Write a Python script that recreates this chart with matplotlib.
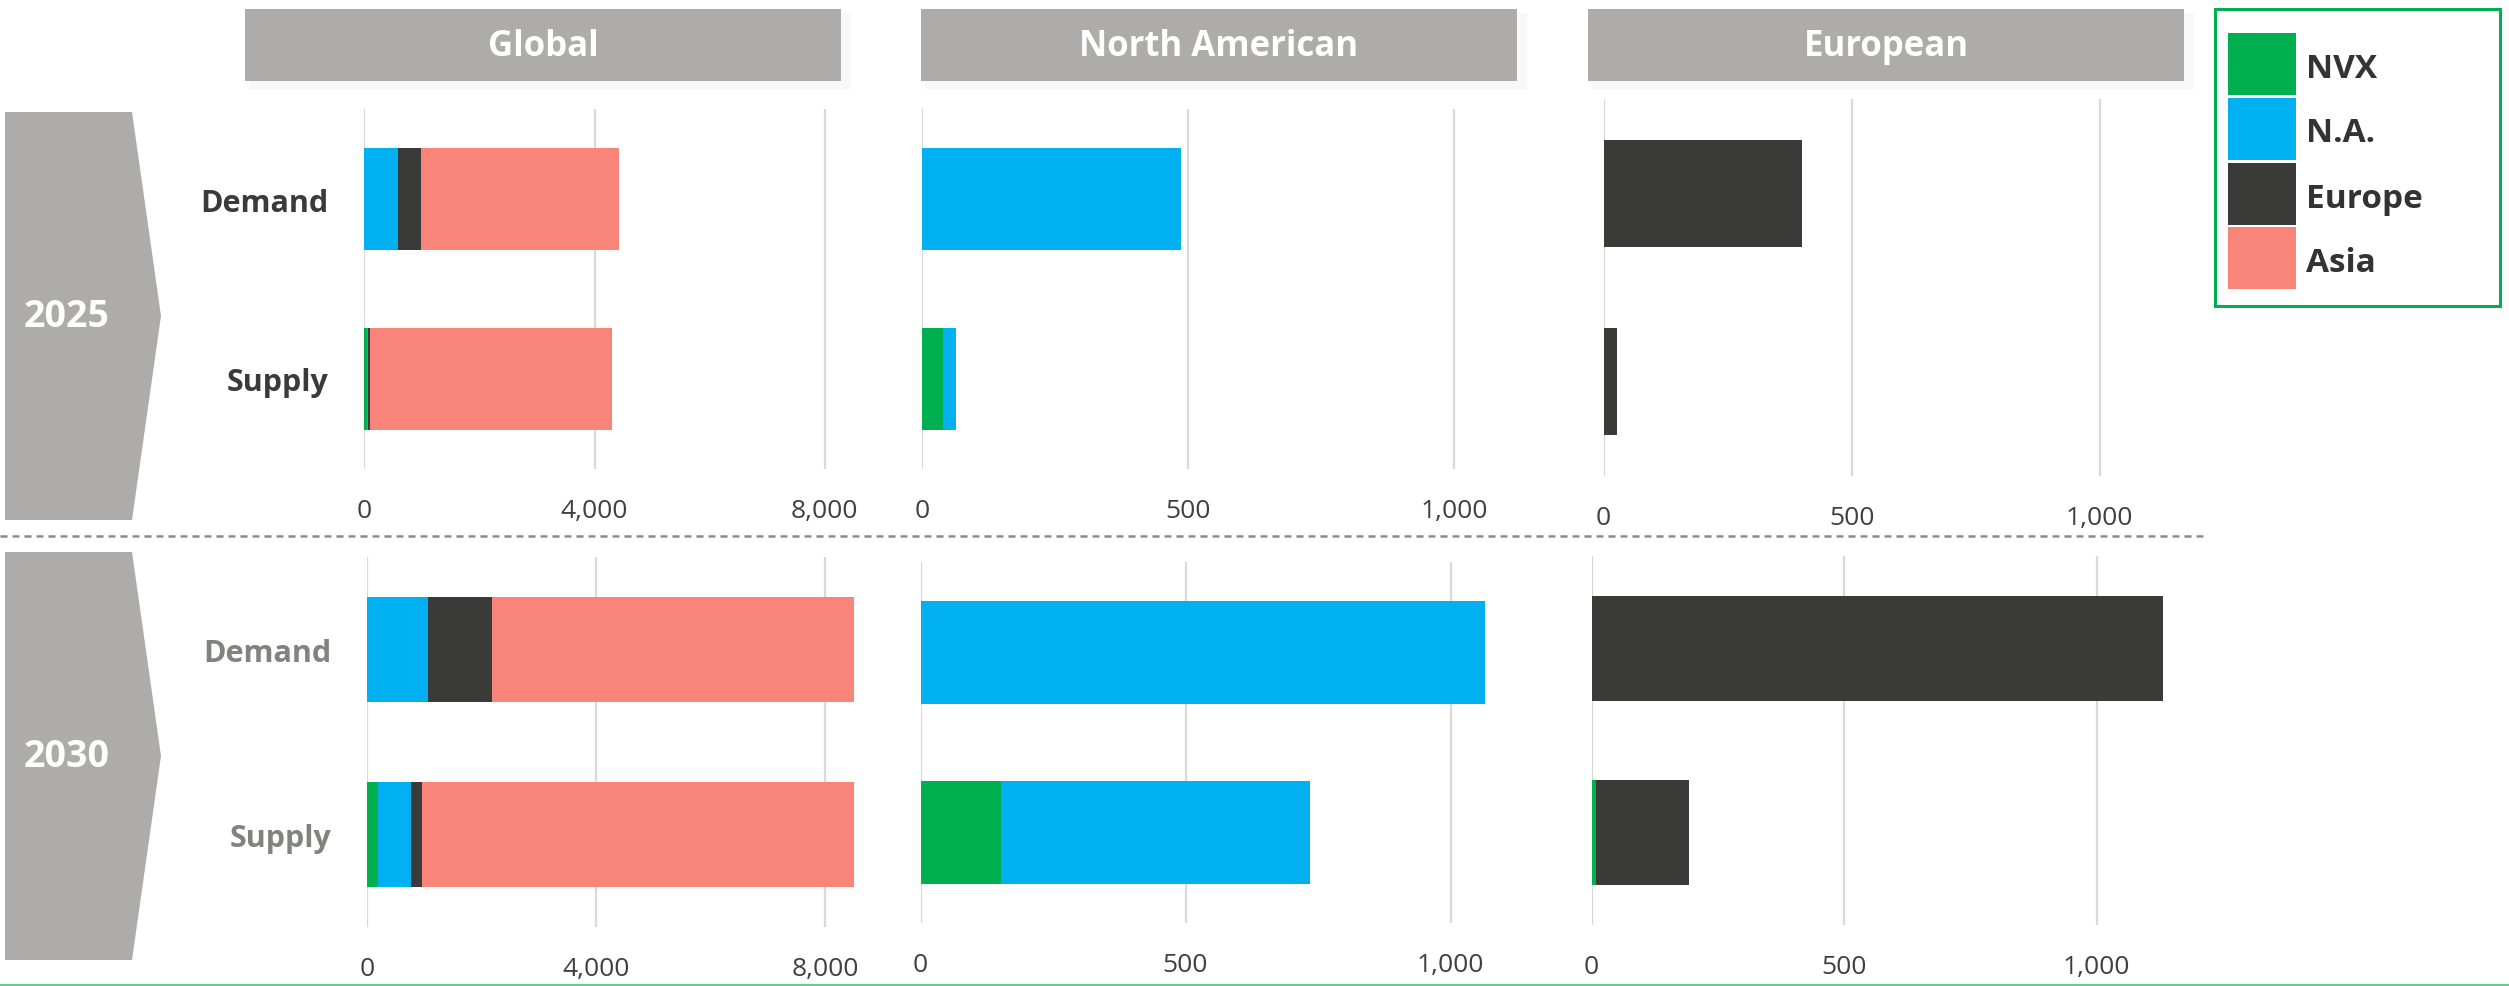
import matplotlib
matplotlib.use("Agg")
import matplotlib.pyplot as plt
from matplotlib.patches import Rectangle, Polygon

plt.rcParams['font.family'] = ['Open Sans', 'DejaVu Sans']

# ---------------- data ----------------
segments = ['NVX', 'N.A.', 'Europe', 'Asia']
seg_colors = ['#00b050', '#00b0f0', '#3a3b38', '#f9857a']
rows = ['Demand', 'Supply']
years = ['2025', '2030']
regions = ['Global', 'North American', 'European']

# values per segment [NVX, N.A., Europe, Asia]
global_2025_demand = [0, 580, 410, 3430]
global_2025_supply = [40, 20, 30, 4210]
na_2025_demand = [0, 488, 0, 0]
na_2025_supply = [40, 24, 0, 0]
eu_2025_demand = [0, 0, 399, 0]
eu_2025_supply = [0, 0, 28, 0]

global_2030_demand = [0, 1060, 1125, 6320]
global_2030_supply = [190, 570, 190, 7550]
na_2030_demand = [0, 1066, 0, 0]
na_2030_supply = [151, 584, 0, 0]
eu_2030_demand = [0, 0, 1131, 0]
eu_2030_supply = [8, 0, 185, 0]

global_ticks = [0, 4000, 8000]
regional_ticks = [0, 500, 1000]

W, H = 2509, 987
fig = plt.figure(figsize=(W / 100, H / 100), dpi=100)

# overlay in pixel coords for the decorations
deco = fig.add_axes([0, 0, 1, 1], zorder=0)
deco.set_xlim(0, W)
deco.set_ylim(H, 0)
deco.axis('off')

HEAD_GREY = '#adacaa'

# header bars
headers = [(245, 841), (921, 1517), (1588, 2184)]
for (x0, x1), name in zip(headers, regions):
    deco.add_patch(Rectangle((x0 + 4, 14), x1 - x0 + 6, 76, color='#f8f8f8', lw=0))
    deco.add_patch(Rectangle((x0, 10), x1 - x0, 72, color=HEAD_GREY, lw=0))
    deco.text((x0 + x1) / 2, 47, name, color='white', fontsize=25,
              fontweight='bold', ha='center', va='center')

# year chevrons
for (top, bot), yr in zip([(113, 521), (553, 961)], years):
    mid = (top + bot) / 2
    deco.add_patch(Polygon([(5, top), (132, top), (161, mid), (132, bot), (5, bot)],
                           closed=True, color=HEAD_GREY, lw=0))
    deco.text(67, mid, yr, color='white', fontsize=27, fontweight='bold',
              ha='center', va='center')

# separator lines
deco.plot([0, 2205], [537, 537], color='#8c8c8c', lw=1.8, ls=(0, (2.8, 2)))
deco.plot([0, W], [986, 986], color='#5fd08a', lw=1.6)

# legend
deco.add_patch(Rectangle((2215, 10), 285, 297, fill=False, ec='#00b050', lw=2.2))
leg_tops = [34, 99, 164, 228]
for top, name, col in zip(leg_tops, segments, seg_colors):
    deco.add_patch(Rectangle((2228, top), 68, 62, color=col, lw=0))
    deco.text(2306, top + 35, name, color='#333333', fontsize=24,
              fontweight='bold', ha='left', va='center')

# ---------------- panels ----------------
# (demand, supply, zero px, px per unit, top px, bottom px, xmax, ticks, row label colour)
layout = [
    (global_2025_demand, global_2025_supply, 364.5, 230 / 4000, 110, 470, 8800, global_ticks, '#3a3a3a'),
    (na_2025_demand, na_2025_supply, 921.8, 266 / 500, 110, 470, 1120, regional_ticks, None),
    (eu_2025_demand, eu_2025_supply, 1603.6, 248 / 500, 100, 477, 1150, regional_ticks, None),
    (global_2030_demand, global_2030_supply, 367.4, 229 / 4000, 558, 928, 8800, global_ticks, '#7f857c'),
    (na_2030_demand, na_2030_supply, 920.5, 265 / 500, 563, 924, 1120, regional_ticks, None),
    (eu_2030_demand, eu_2030_supply, 1591.6, 252.5 / 500, 557, 926, 1150, regional_ticks, None),
]

for demand, supply, x0, ppu, top, bot, xmax, ticks, lab_col in layout:
    ax = fig.add_axes([x0 / W, 1 - bot / H, xmax * ppu / W, (bot - top) / H], zorder=1)
    ax.patch.set_alpha(0)
    left = [0, 0]
    for k, col in enumerate(seg_colors):
        vals = [demand[k], supply[k]]
        ax.barh([0, 1], vals, left=left, height=0.57, color=col, lw=0, zorder=3)
        left = [left[0] + vals[0], left[1] + vals[1]]
    ax.set_xlim(0, xmax)
    ax.set_ylim(1.5, -0.5)
    ax.set_xticks(ticks)
    ax.set_xticklabels([f'{t:,}' for t in ticks])
    ax.tick_params(axis='x', length=0, pad=21, labelsize=19, labelcolor='#404040')
    ax.grid(axis='x', color='#d9d9d9', lw=1.6, zorder=0)
    for s in ax.spines.values():
        s.set_visible(False)
    if lab_col:
        ax.set_yticks([0, 1])
        ax.set_yticklabels(rows, fontsize=22, fontweight='bold', color=lab_col)
        ax.tick_params(axis='y', length=0, pad=26)
    else:
        ax.set_yticks([])

fig.savefig('out.png', dpi=100)
